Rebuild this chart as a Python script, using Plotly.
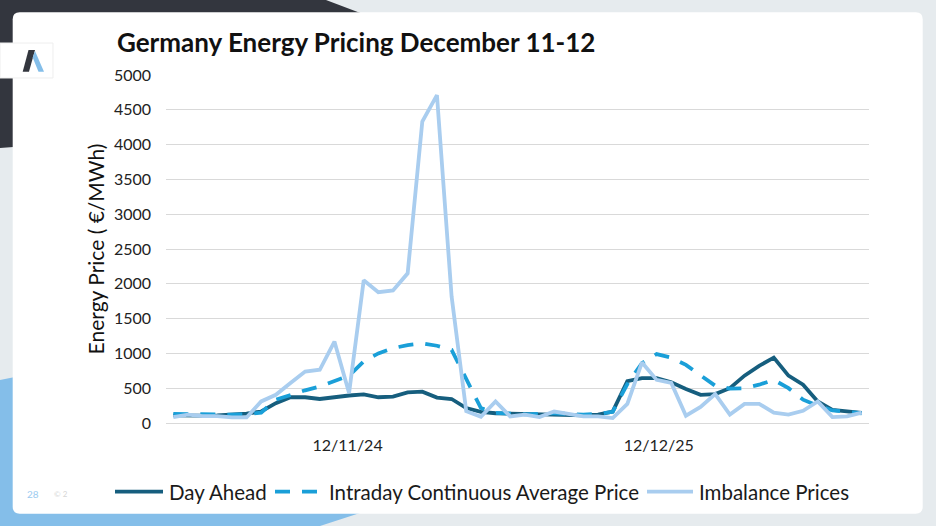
import plotly.graph_objects as go

# hourly prices, Dec 11-12 (EUR/MWh)
hours = list(range(48))
day_ahead = [110, 105, 105, 110, 120, 135, 165, 285, 370, 370, 345, 375,
             395, 410, 370, 380, 440, 450, 365, 345, 215, 160, 140, 135,
             130, 120, 120, 110, 110, 120, 165, 600, 645, 645, 585, 490,
             405, 415, 500, 680, 820, 940, 680, 550, 310, 190, 165, 145]
intraday = [130, 125, 125, 120, 120, 125, 150, 335, 405, 470, 525, 600,
            680, 885, 1000, 1075, 1120, 1145, 1110, 1050, 630, 215, 145, 135,
            125, 130, 140, 130, 120, 130, 160, 560, 860, 990, 940, 835,
            690, 535, 495, 500, 550, 620, 500, 335, 250, 180, 160, 140]
imbalance = [85, 120, 100, 100, 80, 80, 310, 405, 575, 740, 765, 1170,
             430, 2050, 1880, 1905, 2150, 4330, 4710, 1820, 170, 90, 310, 95,
             120, 85, 165, 135, 95, 95, 70, 275, 870, 620, 575, 105,
             230, 415, 120, 275, 275, 150, 120, 175, 310, 85, 95, 150]

date_tick_pos = [11.9, 33.15]
date_tick_text = ["12/11/24", "12/12/25"]

series_names = ["Day Ahead", "Intraday Continuous Average Price", "Imbalance Prices"]
series_colors = ["#165e7e", "#1a9fd8", "#a9cdef"]
series_dash = ["solid", "15px,12px", "solid"]

W, H = 936, 526
L, R, T, B = 166, 67, 75, 103
PW, PH = W - L - R, H - T - B


def fx(px):
    return (px - L) / PW


def fy(py):
    return (H - B - py) / PH


def path(points):
    return "M" + " L".join(f"{fx(a):.5f},{fy(b):.5f}" for a, b in points) + " Z"


def rounded_rect(x0, y0, x1, y1, r):
    s = f"M{fx(x0 + r):.5f},{fy(y0):.5f} L{fx(x1 - r):.5f},{fy(y0):.5f} "
    s += f"Q{fx(x1):.5f},{fy(y0):.5f} {fx(x1):.5f},{fy(y0 + r):.5f} "
    s += f"L{fx(x1):.5f},{fy(y1 - r):.5f} "
    s += f"Q{fx(x1):.5f},{fy(y1):.5f} {fx(x1 - r):.5f},{fy(y1):.5f} "
    s += f"L{fx(x0 + r):.5f},{fy(y1):.5f} "
    s += f"Q{fx(x0):.5f},{fy(y1):.5f} {fx(x0):.5f},{fy(y1 - r):.5f} "
    s += f"L{fx(x0):.5f},{fy(y0 + r):.5f} "
    s += f"Q{fx(x0):.5f},{fy(y0):.5f} {fx(x0 + r):.5f},{fy(y0):.5f} Z"
    return s


fig = go.Figure()

for name, vals, color, dash in zip(series_names, [day_ahead, intraday, imbalance],
                                   series_colors, series_dash):
    fig.add_trace(go.Scatter(
        x=hours, y=vals, name=name, mode="lines",
        line=dict(color=color, width=3.8, dash=dash),
    ))

# slide background pieces
shapes = [
    dict(type="path", path=path([(0, 0), (326, 0), (400, 28), (40, 28), (40, 145), (0, 148)]),
         fillcolor="#33363e", line_width=0),
    dict(type="path", path=path([(0, 380), (40, 372), (40, 500), (400, 500), (320, 526), (0, 526)]),
         fillcolor="#84bee9", line_width=0),
    dict(type="path", path=rounded_rect(12.7, 12.3, 922.7, 513.7, 7),
         fillcolor="white", line_width=0),
    # logo box
    dict(type="path", path=path([(0, 43), (53, 43), (53, 78), (0, 78)]),
         fillcolor="white", line=dict(color="#eeeeee", width=1)),
    dict(type="path", path=path([(28.5, 50), (35, 50), (29, 71.7), (22.7, 71.7)]),
         fillcolor="#33363e", line_width=0),
    dict(type="path", path=path([(35, 51), (44, 71.7), (38.5, 71.7), (32.7, 57.5)]),
         fillcolor="#84bee9", line_width=0),
]
for s in shapes:
    s.update(xref="paper", yref="paper", layer="below")

# legend swatches
legend_x = [(115, 163), (275, 317), (647, 693)]
legend_text_x = [167, 327, 697]
legend_y = 491.7
for (a, b), color, dash in zip(legend_x, series_colors, series_dash):
    shapes.append(dict(type="line", xref="paper", yref="paper",
                       x0=fx(a), x1=fx(b), y0=fy(legend_y), y1=fy(legend_y),
                       line=dict(color=color, width=3.8, dash=dash)))

annotations = [
    dict(text="<b>Germany Energy Pricing December 11-12</b>", x=fx(115), y=fy(42),
         xanchor="left", yanchor="middle", showarrow=False,
         font=dict(family="Lato", size=26, color="#111111")),
    dict(text="28", x=fx(33), y=fy(494), xanchor="center", yanchor="middle",
         showarrow=False, font=dict(family="Lato", size=10, color="#9ccbf0")),
    dict(text="© 2", x=fx(52), y=fy(494), xanchor="left", yanchor="middle",
         showarrow=False, font=dict(family="Lato", size=8, color="#d6d6d6")),
]
for name, tx in zip(series_names, legend_text_x):
    annotations.append(dict(text=name, x=fx(tx), y=fy(legend_y), xanchor="left",
                            yanchor="middle", showarrow=False,
                            font=dict(family="Lato", size=20.5, color="#1a1a1a")))
for a in annotations:
    a.update(xref="paper", yref="paper")

fig.update_layout(
    width=W, height=H,
    margin=dict(l=L, r=R, t=T, b=B),
    paper_bgcolor="#e6ebee",
    plot_bgcolor="rgba(0,0,0,0)",
    showlegend=False,
    shapes=shapes,
    annotations=annotations,
    font=dict(family="Lato", color="#333333"),
)
fig.update_xaxes(
    range=[-0.5, 47.5], tickvals=date_tick_pos, ticktext=date_tick_text,
    showgrid=False, zeroline=False, showline=False, ticks="",
    tickfont=dict(size=16, color="#222222"), ticklabelstandoff=11,
)
fig.update_yaxes(
    range=[0, 5000], dtick=500, showgrid=True, gridcolor="#d9d9d9", gridwidth=1,
    zeroline=True, zerolinecolor="#d9d9d9", zerolinewidth=1, showline=False,
    tickfont=dict(size=16, color="#222222"), ticklabelstandoff=14,
    title=dict(text="Energy Price ( €/MWh)", font=dict(size=21, color="#111111"), standoff=3),
)

fig.write_html("out.html", config={"displayModeBar": False},
               post_script="document.body.style.margin='0px';")
